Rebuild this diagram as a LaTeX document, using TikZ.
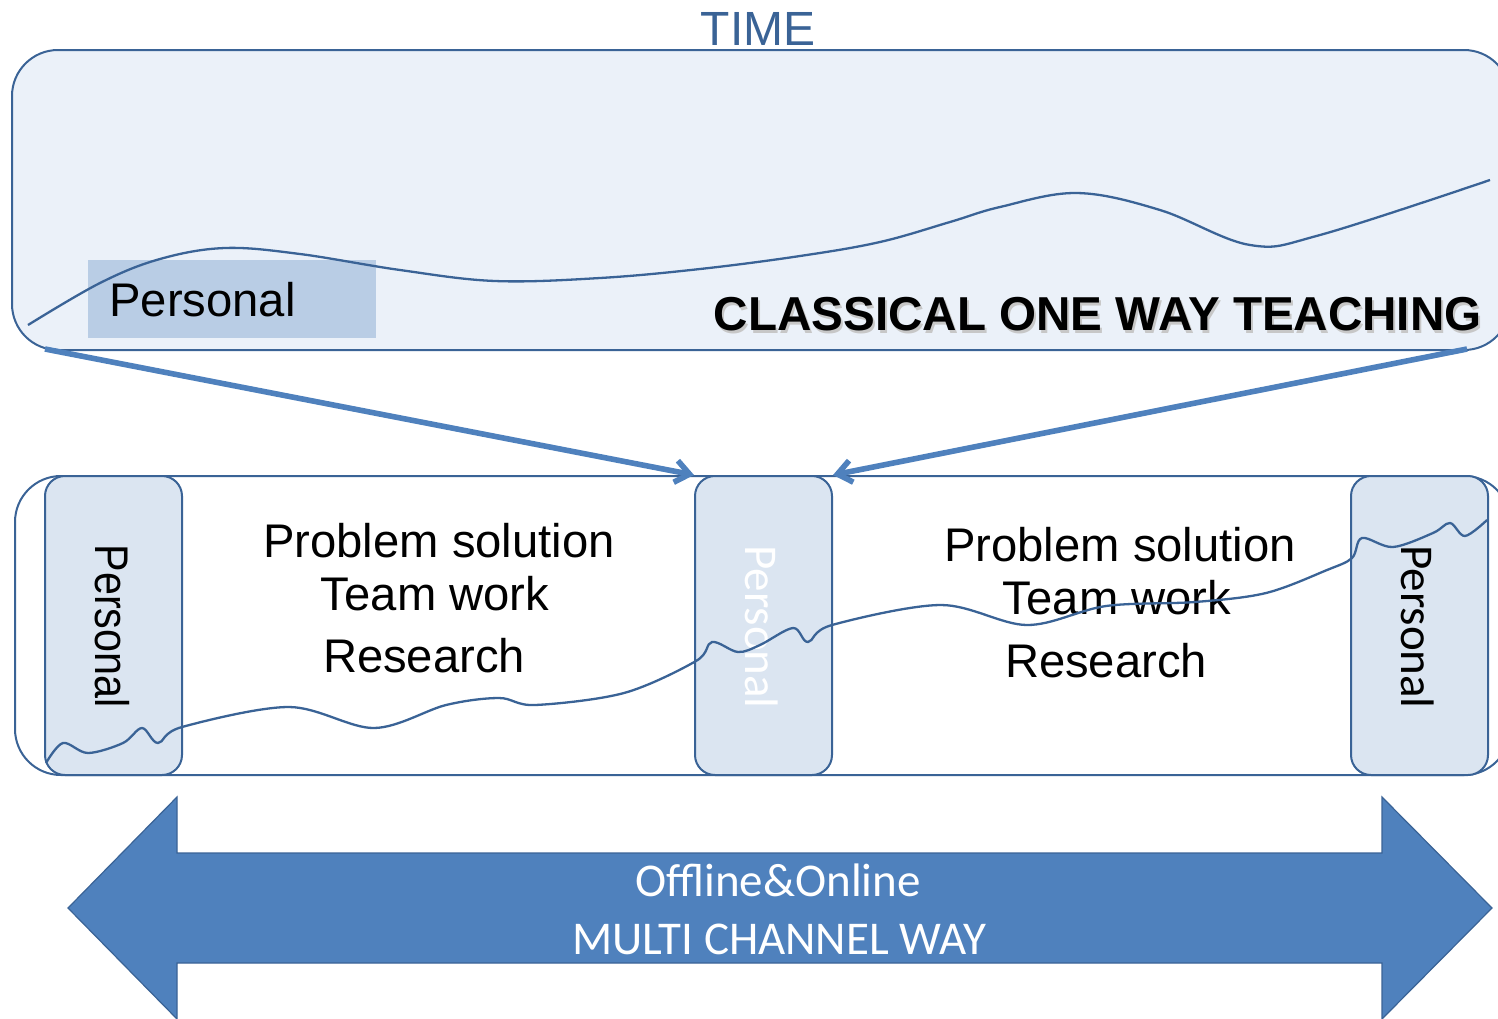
\documentclass[tikz,border=0pt]{standalone}
\usepackage{fontspec}
\setmainfont{Liberation Sans}
\newfontfamily\calfont{Carlito}
\usetikzlibrary{arrows.meta}
\definecolor{bdr}{RGB}{58,99,150}
\definecolor{topfill}{RGB}{235,241,249}
\definecolor{persfill}{RGB}{185,205,229}
\definecolor{colfill}{RGB}{219,229,241}
\definecolor{arrblue}{RGB}{79,129,189}
\begin{document}
\begin{tikzpicture}[x=0.5pt,y=-0.5pt,
  bigbox/.style={draw=bdr, line width=1pt, rounded corners=23pt, inner sep=0pt},
  colbox/.style={draw=bdr, fill=colfill, line width=1pt, rounded corners=10pt, minimum width=68.5pt, minimum height=149.5pt, inner sep=0pt},
  wave/.style={draw=bdr, line width=1.15pt},
  txt/.style={font=\fontsize{23.6}{28}\selectfont, inner sep=0pt},
  caltxt/.style={font=\calfont\fontsize{23.5}{28}\selectfont, inner sep=0pt},
  conn/.style={draw=arrblue, line width=2.8pt, -{Straight Barb[length=7pt,width=11pt]}}
]
\useasboundingbox (0,0) rectangle (1498,1018);
\clip (0,0) rectangle (1498,1018);

% top box
\node[bigbox, fill=topfill, minimum width=749pt, minimum height=150pt] (top) at (761,200) {};
\node[fill=persfill, minimum width=144pt, minimum height=39pt, inner sep=0pt] (prect) at (232,299) {};
\draw[wave] plot[smooth, tension=0.6] coordinates {(28,325) (100,283) (160,259) (225,248) (300,254) (400,270) (495,281) (600,278) (700,269) (800,256) (880,242) (950,222) (1000,207) (1077,193) (1160,210) (1250,245) (1320,235) (1490,180)};
\node[txt, anchor=base west] (ptop) at (109,316) {Personal};
\node[txt, anchor=base east, text=black!22, font=\fontsize{23.8}{28}\selectfont\bfseries] (cshadow) at (1484,333) {CLASSICAL ONE WAY TEACHING};
\node[txt, anchor=base east, font=\fontsize{23.8}{28}\selectfont\bfseries] (classic) at (1482,330) {CLASSICAL ONE WAY TEACHING};
\node[txt, anchor=base, text=bdr, font=\fontsize{24}{28}\selectfont] (time) at (758,45) {TIME};

% bottom box
\node[bigbox, fill=white, minimum width=747.5pt, minimum height=149.5pt] (bottom) at (762.5,625.5) {};
\node[colbox] (lcol) at (113.5,625.5) {};
\node[colbox] (mcol) at (763.5,625.5) {};
\node[colbox] (rcol) at (1419.5,625.5) {};

\node[txt, rotate=-90] (lpers) at (112,626) {\scalebox{0.875}[1]{Personal}};
\node[caltxt, rotate=-90, text=white] (mpers) at (762,627) {Personal};
\node[caltxt, rotate=-90] (rpers) at (1418,627) {Personal};

\node[txt, anchor=base] (l1) at (439,557) {Problem solution};
\node[txt, anchor=base] (l2) at (435,610) {Team work};
\node[txt, anchor=base] (l3) at (424,672) {Research};
\node[txt, anchor=base] (r1) at (1120,561) {Problem solution};
\node[txt, anchor=base] (r2) at (1117,614) {Team work};
\node[txt, anchor=base] (r3) at (1106,677) {Research};

\draw[wave] plot[smooth, tension=0.55] coordinates {(46,763) (63,743) (88,753) (123,743) (142,728) (158,743) (182,727) (289,707) (374,728) (446,705) (499,698) (535,705) (624,693) (696,661) (712,642) (738,652) (760,645) (793,628) (808,642) (832,625) (941,605) (1027,625) (1106,606) (1195,602) (1266,593) (1327,570) (1352,558) (1362,538) (1393,547) (1433,533) (1450,523) (1465,536) (1487,520)};

% converging arrows
\coordinate (tl) at (45,349);
\coordinate (tr) at (1467,349);
\draw[conn] (tl) -- (mcol.north west);
\draw[conn] (tr) -- (mcol.north east);

% double arrow
\filldraw[fill=arrblue, draw=bdr, line width=0.6pt] (68,908) -- (177,797) -- (177,853) -- (1382,853) -- (1382,797) -- (1492,908) -- (1382,1019) -- (1382,963) -- (177,963) -- (177,1019) -- cycle;
\node[caltxt, anchor=base, text=white] (off) at (778,896) {Offline\&Online};
\node[caltxt, anchor=base, text=white] (multi) at (779,954) {MULTI CHANNEL WAY};
\end{tikzpicture}
\end{document}
